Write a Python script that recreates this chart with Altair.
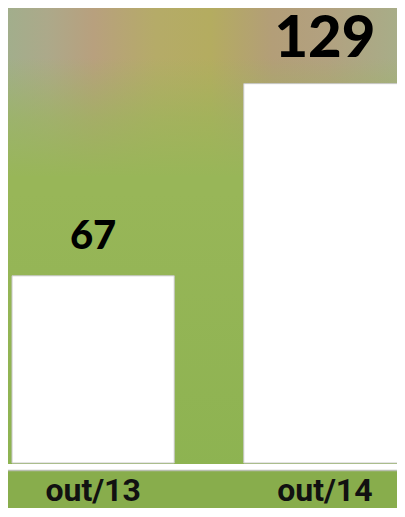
import altair as alt
import pandas as pd

categories = ["out/13", "out/14"]
values = [67, 129]

df = pd.DataFrame({"cat": categories, "value": values})

Y0 = 6.6
Y1 = 153.4
W = 389
H = 455

xscale = alt.Scale(domain=categories, range=[4, 398], paddingInner=0.3, paddingOuter=0)
yscale = alt.Scale(domain=[Y0, Y1], zero=False, nice=False)

MID = "#98b658"

bg_grad = {
    "gradient": "linear", "x1": 0, "y1": 0, "x2": 0, "y2": 1,
    "stops": [
        {"offset": 0.0, "color": MID},
        {"offset": 0.4, "color": MID},
        {"offset": 1.0, "color": "#8db351"},
    ],
}
side_grad = {
    "gradient": "linear", "x1": 0, "y1": 0, "x2": 1, "y2": 0,
    "stops": [
        {"offset": 0.0, "color": "#a2ae8c"},
        {"offset": 0.1, "color": "#aca98a"},
        {"offset": 0.22, "color": "#b8a07e"},
        {"offset": 0.38, "color": "#b5ab68"},
        {"offset": 0.52, "color": "#b4ac60"},
        {"offset": 0.68, "color": "#b39e78"},
        {"offset": 0.82, "color": "#b2a180"},
        {"offset": 1.0, "color": "#a8ad88"},
    ],
}
fade_grad = {
    "gradient": "linear", "x1": 0, "y1": 0, "x2": 0, "y2": 1,
    "stops": [
        {"offset": 0.0, "color": "rgba(152,182,88,0)"},
        {"offset": 0.5, "color": "rgba(152,182,88,0.6)"},
        {"offset": 1.0, "color": "rgba(152,182,88,1)"},
    ],
}

base = alt.Chart(df)
one = "datum.cat == 'out/13'"

bg = base.mark_rect(fill=bg_grad).encode(
    x=alt.value(0), x2=alt.value(W), y=alt.value(0), y2=alt.value(H + 8)
).transform_filter(one)

bg_top = base.mark_rect(fill=side_grad).encode(
    x=alt.value(0), x2=alt.value(W), y=alt.value(0), y2=alt.value(168)
).transform_filter(one)

bg_fade = base.mark_rect(fill=fade_grad).encode(
    x=alt.value(0), x2=alt.value(W), y=alt.value(50), y2=alt.value(170)
).transform_filter(one)

strip = base.mark_rule(color="white", strokeWidth=6).encode(
    x=alt.value(0), x2=alt.value(W), y=alt.value(459)
).transform_filter(one)

shadow = base.mark_rule(color="#b9bfb0", strokeWidth=1.5).encode(
    x=alt.value(0), x2=alt.value(W), y=alt.value(462.5)
).transform_filter(one)

bars = base.mark_bar(color="white", stroke="#c8c8c8", strokeWidth=1).encode(
    x=alt.X("cat:N", scale=xscale, sort=categories,
            axis=alt.Axis(title=None, ticks=False, domain=False, labelAngle=0,
                          labelFont="Roboto", labelFontWeight="bold",
                          labelFontSize=32, labelColor="#111111",
                          labelBaseline="alphabetic", labelPadding=37)),
    y=alt.Y("value:Q", scale=yscale, axis=None),
    y2=alt.datum(Y0),
)

texts = base.mark_text(font="Lato", fontWeight=900, baseline="alphabetic", dy=-27, color="black").encode(
    x=alt.X("cat:N", scale=xscale, sort=categories),
    y=alt.Y("value:Q", scale=yscale),
    text=alt.Text("value:Q"),
    size=alt.condition("datum.value > 100", alt.value(58), alt.value(40)),
)

chart = alt.layer(bg, bg_top, bg_fade, strip, shadow, bars, texts).properties(
    width=W, height=H,
    autosize=alt.AutoSizeParams(type="none"),
    padding={"left": 0, "top": 0, "right": 0, "bottom": 45},
).configure(background="#88ad4c").configure_view(stroke=None)

chart.save("out.html", embed_options={"renderer": "svg", "actions": False})
